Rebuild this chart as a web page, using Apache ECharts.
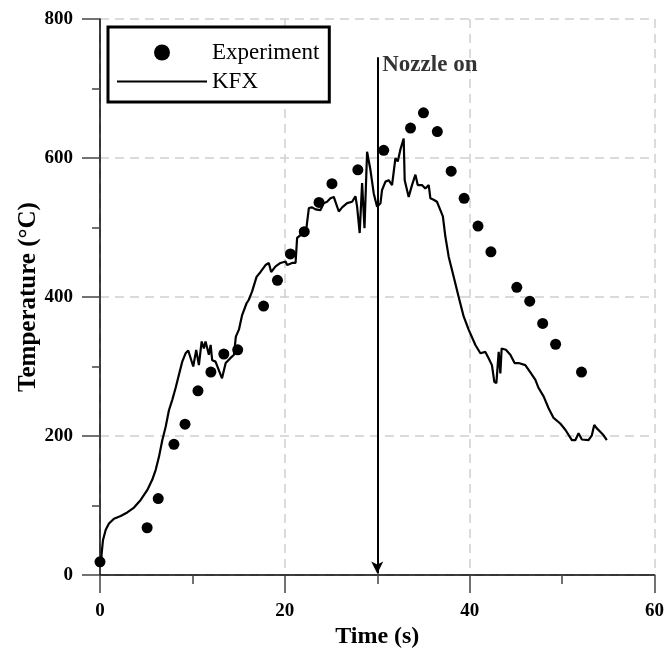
<!DOCTYPE html>
<html>
<head>
<meta charset="utf-8">
<script src="https://cdn.jsdelivr.net/npm/echarts@6/dist/echarts.min.js"></script>
<style>html,body{margin:0;padding:0;background:#fff;}#chart{width:667px;height:654px;}</style>
</head>
<body>
<div id="chart"></div>
<script>
// ---- data ----
var expTime = [0,5.1,6.3,8.0,9.2,10.6,12.0,13.4,14.9,17.7,19.2,20.6,22.1,23.7,25.1,27.9,30.7,33.6,35.0,36.5,38.0,39.4,40.9,42.3,45.1,46.5,47.9,49.3,52.1];
var expTemp = [19,68,110,188,217,265,292,318,324,387,424,462,494,536,563,583,611,643,665,638,581,542,502,465,414,394,362,332,292];

var kfxTime = [0.1,0.18,0.32,0.62,0.97,1.51,2.24,2.95,3.68,4.4,5.11,5.65,6.02,6.38,6.74,7.1,7.46,7.82,8.18,8.54,8.9,9.26,9.55,10.09,10.41,10.7,11.0,11.24,11.42,11.78,11.97,12.14,12.5,13.2,13.6,14.1,14.5,14.7,15.03,15.38,15.86,16.1,16.46,16.94,17.37,17.91,18.27,18.52,19.0,19.53,20.08,20.25,20.79,21.16,21.33,21.7,22.24,22.6,22.95,23.32,23.86,24.2,24.57,24.94,25.3,25.48,25.84,26.2,26.74,27.28,27.64,27.82,28.1,28.36,28.62,28.9,29.26,29.62,29.98,30.35,30.52,30.89,31.24,31.6,31.97,32.22,32.5,32.86,32.97,33.4,33.76,34.13,34.38,34.84,35.2,35.57,35.75,36.1,36.46,36.83,37.1,37.37,37.73,38.27,38.81,39.35,39.89,40.62,41.16,41.7,42.05,42.41,42.67,42.89,43.14,43.32,43.46,43.92,44.4,44.86,45.3,46.02,46.38,47.1,47.46,48.0,48.54,49.08,49.8,50.35,51.06,51.43,51.78,52.14,52.86,53.22,53.48,53.76,54.13,54.49,54.84];
var kfxTemp = [12,31,50,65,74,81,85,90,97,108,122,137,151,170,194,213,237,252,269,288,307,319,323,300,324,302,336,326,336,317,331,309,307,283,305,312,317,343,353,374,391,396,408,429,436,446,449,436,444,449,451,446,449,449,485,489,489,528,529,526,525,535,537,542,544,537,523,529,535,537,545,530,492,564,499,609,583,549,530,535,554,566,568,561,600,595,612,628,568,544,561,576,561,561,556,561,542,540,537,525,516,487,458,429,400,372,353,331,319,321,312,302,278,276,321,290,326,324,317,305,305,302,295,281,269,257,240,226,218,209,194,194,204,195,194,201,216,211,206,201,194];

var xTicks = [0, 20, 40, 60];
var yTicks = [0, 200, 400, 600, 800];
var nozzleTime = 30;
var nozzleTop = 745;
var nozzleBottom = 2;
var nozzleLabel = 'Nozzle on';
var nozzleLabelAt = [30, 734];

var seriesNames = ['Experiment', 'KFX'];
var xName = 'Time (s)';
var yName = 'Temperature (°C)';

// ---- chart ----
var FONT = "'Liberation Serif', 'Times New Roman', serif";
var chart = echarts.init(document.getElementById('chart'), null, {renderer: 'canvas'});

function zip(a, b) { return a.map(function (v, i) { return [v, b[i]]; }); }

var option = {
  animation: false,
  backgroundColor: '#fff',
  grid: {left: 100, right: 11, top: 19, bottom: 79, containLabel: false},
  legend: {
    data: [
      {name: seriesNames[0], icon: 'circle'},
      {name: seriesNames[1], icon: 'path://M0,0 L90,0 L90,2 L0,2 Z'}
    ],
    orient: 'vertical',
    left: 108, top: 27,
    backgroundColor: '#fff',
    borderColor: '#000', borderWidth: 3, borderRadius: 0,
    padding: [14, 10, 9, 9],
    itemWidth: 90, itemHeight: 16, itemGap: 6,
    symbolKeepAspect: true,
    textStyle: {fontFamily: FONT, fontSize: 23, color: '#000'}
  },
  xAxis: {
    type: 'value', min: 0, max: 60, interval: 20,
    name: xName, nameLocation: 'middle', nameGap: 50, nameMoveOverlap: false,
    nameTextStyle: {fontFamily: FONT, fontSize: 24, fontWeight: 'bold', color: '#000'},
    axisLine: {onZero: false, lineStyle: {color: '#000', width: 1.5}},
    axisTick: {inside: false, length: 18, lineStyle: {color: '#444', width: 1.5}},
    minorTick: {show: true, splitNumber: 2, length: 9, lineStyle: {color: '#444', width: 1.5}},
    axisLabel: {margin: 27, fontFamily: FONT, fontSize: 19, fontWeight: 'bold', color: '#000'},
    splitLine: {show: true, lineStyle: {color: '#cfcfcf', width: 1.5, type: [9, 6]}}
  },
  yAxis: {
    type: 'value', min: 0, max: 800, interval: 200,
    name: yName, nameLocation: 'middle', nameGap: 59, nameRotate: 90, nameMoveOverlap: false,
    nameTextStyle: {fontFamily: FONT, fontSize: 25, fontWeight: 'bold', color: '#000'},
    axisLine: {show: true, onZero: false, lineStyle: {color: '#000', width: 1.5}},
    axisTick: {show: true, inside: false, length: 18, lineStyle: {color: '#444', width: 1.5}},
    minorTick: {show: true, splitNumber: 2, length: 8, lineStyle: {color: '#444', width: 1.5}},
    axisLabel: {margin: 27, fontFamily: FONT, fontSize: 19, fontWeight: 'bold', color: '#000'},
    splitLine: {show: true, lineStyle: {color: '#cfcfcf', width: 1.5, type: [9, 6]}}
  },
  series: [
    {
      name: seriesNames[1], type: 'line', data: zip(kfxTime, kfxTemp),
      symbol: 'none', smooth: false, z: 3,
      lineStyle: {color: '#000', width: 2.2},
      itemStyle: {color: '#000', opacity: 1}
    },
    {
      name: seriesNames[0], type: 'scatter', data: zip(expTime, expTemp),
      symbol: 'circle', symbolSize: 11, z: 4,
      itemStyle: {color: '#000', opacity: 1}
    },
    {
      name: 'nozzle', type: 'scatter', data: [nozzleLabelAt],
      symbolSize: 0, silent: true, z: 5,
      label: {show: true, position: 'right', distance: 5, formatter: nozzleLabel,
        fontFamily: FONT, fontSize: 23, fontWeight: 'bold', color: '#000'},
      markLine: {
        silent: true, symbol: ['none', 'arrow'], symbolSize: [9, 12],
        label: {show: false},
        lineStyle: {color: '#000', width: 2, type: 'solid'},
        data: [[{coord: [nozzleTime, nozzleTop]}, {coord: [nozzleTime, nozzleBottom]}]]
      }
    }
  ]
};
chart.setOption(option);
</script>
</body>
</html>
